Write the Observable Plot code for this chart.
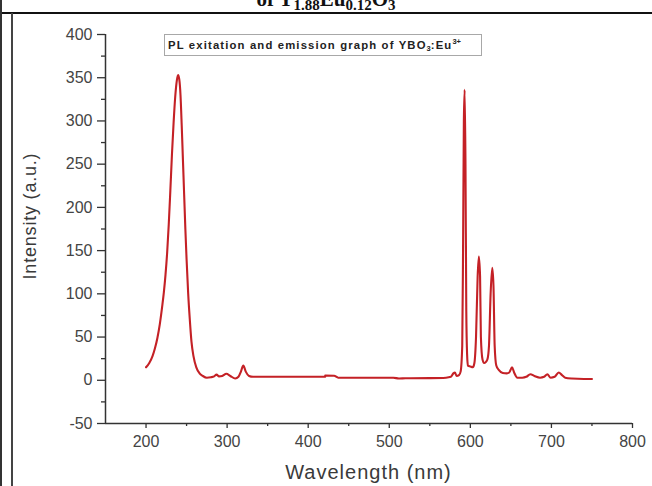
<!DOCTYPE html>
<html>
<head>
<meta charset="utf-8">
<script src="https://cdn.jsdelivr.net/npm/d3@7"></script>
<script src="https://cdn.jsdelivr.net/npm/@observablehq/plot@0.6"></script>
<style>
  html, body { margin: 0; padding: 0; background: #fff; }
  #wrap { position: relative; width: 652px; height: 486px; overflow: hidden; background: #fff; }
  #title { position: absolute; left: 0; width: 652px; top: -13px; text-align: center;
           font-family: "Liberation Serif", "DejaVu Serif", serif; font-weight: bold; font-size: 21px; color: #111; white-space: nowrap; }
  #title sub { font-size: 15px; vertical-align: -4px; }
  .hline { position: absolute; left: 0; top: 12px; width: 652px; height: 2px; background: #111; }
  .vl1 { position: absolute; left: 0; top: 0; width: 2px; height: 486px; background: #333; }
  .vl2 { position: absolute; left: 11px; top: 13px; width: 2px; height: 473px; background: #444; }
  #box { position: absolute; left: 164px; top: 34px; width: 318px; height: 22px; border: 1px solid #a8a8a8;
         font-family: "Liberation Sans", Arial, sans-serif; font-weight: bold; font-size: 11.3px; line-height: 21px;
         letter-spacing: 1.15px; padding-left: 3px; box-sizing: border-box; color: #222; background: #fff; white-space: nowrap; }
  #box sub { font-size: 7.5px; vertical-align: -2px; line-height: 0; letter-spacing: 0; }
  #box sup { font-size: 7.5px; vertical-align: 5px; line-height: 0; letter-spacing: 0; }
  #plot { position: absolute; left: 0; top: 0; }
  #xlabel { position: absolute; left: 105px; width: 527px; top: 462px; text-align: center; line-height: 1;
            font-family: "Liberation Sans", Arial, sans-serif; font-size: 20px; letter-spacing: 1px; color: #3a3a3a; }
  #ylabel { position: absolute; left: 30px; top: 216px; transform: translate(-50%, -50%) rotate(-90deg);
            font-family: "Liberation Sans", Arial, sans-serif; font-size: 18px; letter-spacing: 0.8px; color: #3a3a3a; white-space: nowrap; line-height: 1; }
</style>
</head>
<body>
<div id="wrap">
  <div id="plot"></div>
  <div id="title">of Y<sub>1.88</sub>Eu<sub>0.12</sub>O<sub>3</sub></div>
  <div class="hline"></div>
  <div class="vl1"></div>
  <div class="vl2"></div>
  <div id="box">PL exitation and emission graph of YBO<sub>3</sub>:Eu<sup>3+</sup></div>
  <div id="xlabel">Wavelength (nm)</div>
  <div id="ylabel">Intensity (a.u.)</div>
</div>
<script>
// Excitation spectrum (wavelength nm, intensity a.u.)
const excWavelength = [200, 204, 208, 211, 214, 217, 220, 222, 224, 226, 228, 230, 232, 234, 236, 238, 239.5, 241, 242.5, 244, 245.5, 247, 248.5, 250, 252, 254, 256, 258.5, 262, 266, 270, 275, 280, 284, 287, 290, 294, 299, 304, 310, 314, 317, 320, 323, 327, 332, 360, 400, 421];
const excIntensity  = [15, 20, 28, 37, 49, 65, 86, 102, 122, 147, 180, 220, 262, 298, 328, 347, 353, 348, 330, 295, 255, 215, 175, 140, 100, 70, 45, 28, 15, 8, 5, 3, 3.5, 4.5, 6.5, 4.5, 5, 7.5, 5, 2, 4, 10, 17, 10, 5, 4, 4, 4, 4];

// Emission spectrum (wavelength nm, intensity a.u.)
const emWavelength = [421, 432, 437, 450, 480, 505, 512, 520, 550, 570, 576, 579, 581, 583, 586, 588, 590, 591, 592, 593, 594, 595, 596, 597, 600, 603, 605, 607, 609, 610.5, 612, 613, 615, 617, 619, 621, 623, 625, 627, 628.5, 630, 632, 635, 640, 645, 648, 651.5, 654, 658, 664, 669, 674, 679, 686, 691, 695, 699, 704, 709, 713, 717, 725, 740, 750];
const emIntensity  = [5.4, 5.2, 3, 3, 3, 3, 2, 2.3, 2.5, 3, 4, 8, 9, 5, 6, 10, 40, 150, 300, 336, 250, 80, 30, 17, 16, 15, 20, 50, 120, 143, 120, 50, 24, 20, 21, 24, 40, 100, 130, 110, 40, 17, 12, 8.5, 8, 9, 15, 9, 3, 3, 4, 7, 5, 3, 4, 7, 3, 4, 9, 6, 3, 2, 1.5, 1.5];

const xMajor = [200, 300, 400, 500, 600, 700, 800];
const xMinor = [250, 350, 450, 550, 650, 750];
const yMajor = [-50, 0, 50, 100, 150, 200, 250, 300, 350, 400];
const yMinor = [-25, 25, 75, 125, 175, 225, 275, 325, 375];

const excitation = excWavelength.map((w, i) => ({w, v: excIntensity[i]}));
const emission = emWavelength.map((w, i) => ({w, v: emIntensity[i]}));

const lineColor = "#c42126";

const chart = Plot.plot({
  width: 652,
  height: 486,
  marginLeft: 105,
  marginRight: 20,
  marginTop: 34,
  marginBottom: 63,
  style: { fontFamily: "Liberation Sans, Arial, sans-serif", fontSize: "16px", color: "#444", background: "transparent" },
  x: { domain: [150, 800] },
  y: { domain: [-50, 400] },
  marks: [
    Plot.line(excitation, {x: "w", y: "v", stroke: lineColor, strokeWidth: 2.1, curve: "monotone-x"}),
    Plot.line(emission, {x: "w", y: "v", stroke: lineColor, strokeWidth: 2.1, curve: "monotone-x"}),
    Plot.ruleX([150], {stroke: "#333", strokeWidth: 1.5}),
    Plot.ruleY([-50], {stroke: "#333", strokeWidth: 1.5}),
    Plot.axisX({ticks: xMajor, tickSize: 5, tickPadding: 7, label: null, tickFormat: d => d, fontSize: 16, stroke: "#333", strokeWidth: 1.3}),
    Plot.axisX({ticks: xMinor, tickSize: 3, text: null, label: null, stroke: "#333", strokeWidth: 1.3}),
    Plot.axisY({ticks: yMajor, tickSize: 8, tickPadding: 5, label: null, tickFormat: d => d, fontSize: 16, stroke: "#333", strokeWidth: 1.3}),
    Plot.axisY({ticks: yMinor, tickSize: 4, text: null, label: null, stroke: "#333", strokeWidth: 1.3})
  ]
});
document.getElementById("plot").appendChild(chart);
</script>
</body>
</html>
